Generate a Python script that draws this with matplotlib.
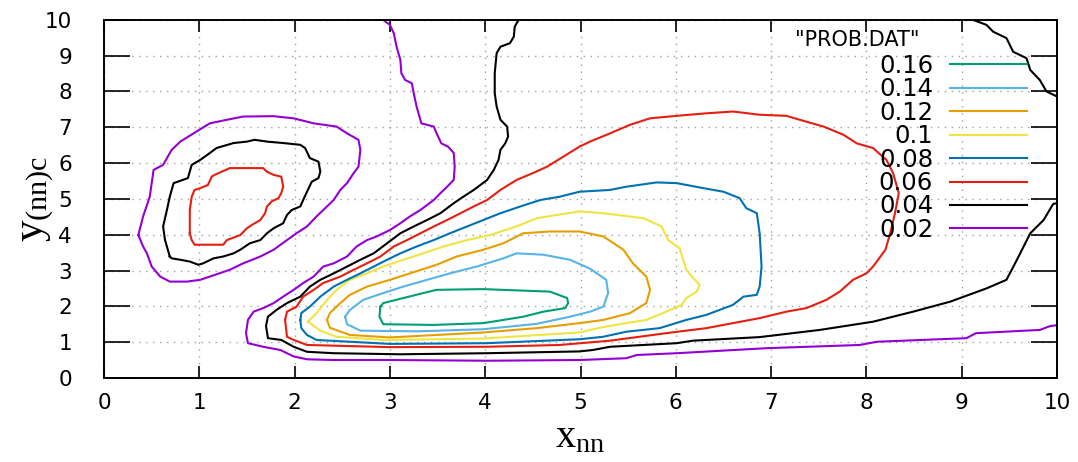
import matplotlib
matplotlib.use("Agg")
import matplotlib.pyplot as plt
import numpy as np

plt.rcParams['font.family'] = ['DejaVu Sans']
plt.rcParams['mathtext.fontset'] = 'custom'
plt.rcParams['mathtext.rm'] = 'Liberation Serif'
plt.rcParams['mathtext.it'] = 'Liberation Serif:italic'

# contour levels and gnuplot colours
levels = ["0.16", "0.14", "0.12", "0.1", "0.08", "0.06", "0.04", "0.02"]
colors = ["#009e73", "#56b4e9", "#e69f00", "#f0e442", "#0072b2", "#e51e10", "#000000", "#9400d3"]

# contour lines (x_nn, y_(nn)c)
g16_x = [2.90, 2.93, 3.14, 3.35, 3.49, 3.98, 4.68, 4.86, 4.87, 4.84, 4.61, 4.40, 3.98, 3.46, 2.93, 2.89]
g16_y = [1.99, 2.09, 2.23, 2.37, 2.46, 2.48, 2.41, 2.23, 2.09, 1.95, 1.85, 1.71, 1.53, 1.48, 1.50, 1.71]

lb14_x = [2.53, 2.58, 2.72, 2.93, 3.14, 3.39, 3.63, 3.91, 4.19, 4.33, 4.61, 4.89, 5.10, 5.27, 5.29, 5.24,
          5.10, 4.89, 4.54, 3.98, 3.28, 2.69, 2.55]
lb14_y = [1.71, 1.90, 2.18, 2.37, 2.55, 2.74, 2.92, 3.11, 3.34, 3.48, 3.44, 3.30, 3.05, 2.74, 2.37, 1.99,
          1.85, 1.71, 1.51, 1.36, 1.30, 1.32, 1.50]

o12_x = [2.34, 2.37, 2.48, 2.58, 2.76, 3.00, 3.21, 3.49, 3.70, 3.98, 4.19, 4.40, 4.68, 4.99, 5.24, 5.45,
         5.55, 5.69, 5.73, 5.69, 5.52, 5.24, 4.99, 4.54, 3.98, 3.00, 2.58, 2.37]
o12_y = [1.62, 1.81, 2.09, 2.32, 2.55, 2.74, 2.92, 3.16, 3.39, 3.58, 3.76, 4.04, 4.09, 4.09, 3.95, 3.58,
         3.20, 2.83, 2.46, 2.09, 1.81, 1.62, 1.53, 1.39, 1.27, 1.13, 1.20, 1.40]

y10_x = [2.14, 2.23, 2.34, 2.44, 2.58, 2.76, 2.93, 3.14, 3.35, 3.56, 3.81, 4.05, 4.33, 4.54, 4.75, 4.99,
         5.24, 5.66, 5.85, 5.92, 6.04, 6.11, 6.17, 6.25, 6.22, 6.11, 6.06, 5.90, 5.69, 5.41, 5.20, 4.99,
         3.98, 2.93, 2.44, 2.27]
y10_y = [1.57, 1.81, 2.18, 2.46, 2.74, 2.92, 3.11, 3.30, 3.48, 3.67, 3.85, 3.99, 4.23, 4.46, 4.55, 4.65,
         4.60, 4.46, 4.23, 3.85, 3.62, 3.02, 2.83, 2.60, 2.41, 2.23, 2.04, 1.85, 1.62, 1.50, 1.40, 1.27,
         1.10, 1.06, 1.15, 1.32]

b08_x = [2.06, 2.07, 2.16, 2.27, 2.41, 2.55, 2.69, 2.83, 2.97, 3.11, 3.28, 3.46, 3.63, 3.81, 3.98, 4.16,
         4.37, 4.58, 4.78, 4.99, 5.31, 5.48, 5.80, 6.01, 6.29, 6.50, 6.67, 6.74, 6.85, 6.88, 6.90, 6.88,
         6.85, 6.71, 6.60, 6.46, 6.32, 6.11, 5.83, 5.48, 5.24, 4.99, 4.02, 3.00, 2.23, 2.13, 2.07]
b08_y = [1.62, 1.81, 1.99, 2.27, 2.55, 2.74, 2.92, 3.11, 3.30, 3.48, 3.67, 3.85, 4.04, 4.23, 4.41, 4.60,
         4.79, 4.97, 5.06, 5.20, 5.25, 5.34, 5.46, 5.44, 5.30, 5.20, 5.02, 4.74, 4.60, 4.04, 3.11, 2.55,
         2.32, 2.27, 2.04, 1.90, 1.76, 1.62, 1.39, 1.29, 1.15, 1.08, 0.97, 0.95, 1.06, 1.20, 1.39]

r06_x = [1.90, 1.92, 2.02, 2.09, 2.20, 2.30, 2.48, 2.62, 2.76, 2.90, 3.04, 3.18, 3.32, 3.46, 3.60, 3.74,
         3.88, 4.02, 4.16, 4.33, 4.50, 4.65, 4.82, 4.99, 5.10, 5.31, 5.52, 5.73, 6.01, 6.32, 6.60, 6.88,
         7.16, 7.30, 7.55, 7.76, 7.90, 8.07, 8.21, 8.28, 8.34, 8.30, 8.25, 8.20, 8.07, 8.00, 7.86, 7.72,
         7.58, 7.37, 7.16, 6.88, 6.60, 6.32, 5.90, 5.31, 4.78, 4.02, 3.00, 2.13, 1.99, 1.92]
r06_y = [1.62, 1.85, 1.99, 2.27, 2.46, 2.65, 2.83, 3.02, 3.20, 3.39, 3.67, 3.85, 4.04, 4.23, 4.41, 4.60,
         4.79, 4.97, 5.25, 5.53, 5.72, 5.90, 6.18, 6.46, 6.60, 6.83, 7.07, 7.25, 7.32, 7.39, 7.44, 7.35,
         7.32, 7.21, 7.02, 6.79, 6.55, 6.42, 6.09, 5.72, 5.16, 4.60, 4.04, 3.58, 3.11, 2.92, 2.74, 2.41,
         2.18, 1.95, 1.85, 1.67, 1.53, 1.39, 1.25, 1.04, 0.92, 0.87, 0.86, 0.92, 1.06, 1.15]

r06i_x = [0.90, 0.90, 0.92, 0.95, 1.01, 1.09, 1.13, 1.16, 1.32, 1.67, 1.71, 1.78, 1.86, 1.88, 1.86, 1.83,
          1.76, 1.71, 1.69, 1.64, 1.55, 1.50, 1.43, 1.29, 1.25, 1.11, 0.95, 0.92]
r06i_y = [4.04, 4.69, 5.06, 5.25, 5.30, 5.39, 5.62, 5.67, 5.86, 5.86, 5.76, 5.67, 5.62, 5.34, 5.16, 5.02,
          4.93, 4.79, 4.60, 4.41, 4.27, 4.18, 3.99, 3.85, 3.72, 3.72, 3.72, 3.85]

k04_x = [4.35, 4.31, 4.30, 4.26, 4.16, 4.12, 4.10, 4.10, 4.12, 4.16, 4.23, 4.24, 4.21, 4.16, 4.14, 4.09,
         4.02, 3.88, 3.77, 3.67, 3.53, 3.39, 3.25, 3.11, 2.97, 2.83, 2.69, 2.55, 2.41, 2.27, 2.16, 2.06,
         1.92, 1.81, 1.72, 1.70, 1.72, 1.86, 1.99, 2.13, 2.41, 3.11, 4.02, 4.99, 5.13, 5.31, 6.01, 6.18,
         6.88, 7.51, 8.07, 8.49, 8.88, 9.26, 9.47, 9.58, 9.72, 9.86, 9.96, 10.0]
k04_y = [10.0, 9.81, 9.53, 9.35, 9.25, 9.07, 8.51, 7.95, 7.58, 7.21, 7.02, 6.74, 6.55, 6.37, 6.09, 5.81,
         5.53, 5.25, 5.06, 4.88, 4.60, 4.41, 4.23, 4.04, 3.76, 3.48, 3.30, 3.11, 2.92, 2.74, 2.55, 2.27,
         2.09, 1.90, 1.71, 1.45, 1.11, 1.06, 0.87, 0.73, 0.69, 0.66, 0.69, 0.74, 0.78, 0.87, 0.97, 1.04,
         1.14, 1.34, 1.57, 1.85, 2.13, 2.50, 2.74, 3.30, 4.04, 4.41, 4.86, 4.88]

k04c_x = [9.12, 9.26, 9.33, 9.47, 9.54, 9.68, 9.72, 9.82, 9.89, 10.0]
k04c_y = [10.0, 9.86, 9.67, 9.49, 9.11, 8.93, 8.60, 8.32, 8.00, 7.86]

k04i_x = [0.69, 0.64, 0.62, 0.66, 0.69, 0.73, 0.88, 0.92, 1.01, 1.11, 1.18, 1.36, 1.50, 1.58, 1.71, 1.88,
          2.06, 2.11, 2.16, 2.25, 2.27, 2.25, 2.18, 2.13, 2.09, 2.06, 1.97, 1.92, 1.88, 1.78, 1.71, 1.64,
          1.53, 1.43, 1.36, 1.25, 1.15, 1.04, 0.99, 0.90, 0.80, 0.71]
k04i_y = [3.39, 3.85, 4.23, 4.69, 5.06, 5.44, 5.58, 5.95, 6.09, 6.28, 6.42, 6.56, 6.60, 6.65, 6.60, 6.56,
          6.51, 6.42, 6.14, 6.04, 5.76, 5.58, 5.48, 5.20, 4.97, 4.79, 4.69, 4.55, 4.32, 4.18, 4.04, 3.85,
          3.76, 3.58, 3.48, 3.39, 3.34, 3.20, 3.16, 3.25, 3.30, 3.34]

p02_x = [2.93, 3.00, 3.04, 3.07, 3.11, 3.12, 3.16, 3.23, 3.25, 3.28, 3.33, 3.46, 3.49, 3.54, 3.61, 3.67,
         3.68, 3.67, 3.60, 3.53, 3.46, 3.32, 3.21, 3.11, 3.00, 2.86, 2.76, 2.65, 2.55, 2.41, 2.30, 2.20,
         2.09, 1.99, 1.88, 1.78, 1.67, 1.57, 1.51, 1.49, 1.51, 1.67, 1.85, 1.99, 2.13, 2.41, 3.00, 4.02,
         4.99, 5.48, 5.59, 6.01, 6.95, 7.93, 8.11, 9.05, 9.15, 9.82, 9.93, 10.0]
p02_y = [10.0, 9.86, 9.63, 9.25, 8.88, 8.51, 8.32, 8.23, 7.95, 7.58, 7.11, 7.02, 6.83, 6.55, 6.46, 6.28,
         5.90, 5.53, 5.34, 5.16, 4.97, 4.69, 4.51, 4.32, 4.13, 3.95, 3.85, 3.67, 3.39, 3.20, 3.11, 2.83,
         2.65, 2.46, 2.27, 2.09, 1.95, 1.85, 1.62, 1.25, 0.97, 0.87, 0.78, 0.60, 0.52, 0.50, 0.50, 0.48,
         0.50, 0.55, 0.64, 0.69, 0.83, 0.92, 1.01, 1.11, 1.25, 1.34, 1.45, 1.47]

p02i_x = [0.36, 0.41, 0.48, 0.52, 0.62, 0.71, 0.80, 0.97, 1.11, 1.29, 1.46, 1.78, 1.99, 2.20, 2.44, 2.55,
          2.67, 2.69, 2.67, 2.62, 2.55, 2.48, 2.41, 2.34, 2.23, 2.13, 2.02, 1.92, 1.78, 1.64, 1.46, 1.32,
          1.11, 1.01, 0.87, 0.69, 0.59, 0.50, 0.45, 0.41]
p02i_y = [3.99, 4.51, 5.06, 5.81, 5.95, 6.37, 6.60, 6.88, 7.11, 7.21, 7.30, 7.31, 7.25, 7.11, 7.02, 6.83,
          6.65, 6.37, 5.90, 5.72, 5.44, 5.25, 4.97, 4.79, 4.51, 4.23, 4.04, 3.85, 3.58, 3.39, 3.20, 3.02,
          2.83, 2.74, 2.69, 2.69, 2.83, 3.11, 3.48, 3.67]

# (level index, x, y, closed)
curves = [
    (0, g16_x, g16_y, True),
    (1, lb14_x, lb14_y, True),
    (2, o12_x, o12_y, True),
    (3, y10_x, y10_y, True),
    (4, b08_x, b08_y, True),
    (5, r06_x, r06_y, True),
    (5, r06i_x, r06i_y, True),
    (6, k04_x, k04_y, False),
    (6, k04c_x, k04c_y, False),
    (6, k04i_x, k04i_y, True),
    (7, p02_x, p02_y, False),
    (7, p02i_x, p02i_y, True),
]

fig = plt.figure(figsize=(10.78, 4.62), dpi=100)
ax = fig.add_axes([0.0965, 0.182, 0.884, 0.775])

for i, cx, cy, closed in curves:
    cx = np.array(cx)
    cy = np.array(cy)
    if closed:
        cx = np.append(cx, cx[0])
        cy = np.append(cy, cy[0])
    ax.plot(cx, cy, color=colors[i], lw=1.5)

ax.set_xlim(0, 10)
ax.set_ylim(0, 10)
ax.set_xticks(range(0, 11))
ax.set_yticks(range(0, 11))
ax.grid(True, color='#a0a0a0', linestyle=(0, (1, 4)), lw=1.0)
ax.set_axisbelow(True)
ax.tick_params(axis='both', direction='in', top=True, right=True, width=1.2, labelsize=15.5)
ax.tick_params(axis='y', length=18.5, pad=23)
ax.tick_params(axis='x', length=8.5, pad=11)
for s in ax.spines.values():
    s.set_linewidth(1.4)

ax.set_xlabel(r'$\mathrm{x}_{\mathrm{nn}}$', fontsize=29, labelpad=2)
ax.set_ylabel(r'$\mathrm{y}_{\mathrm{(nn)c}}$', fontsize=31)
ax.yaxis.set_label_coords(-0.05, 0.5)

# key in the top right corner, gnuplot style
ax.text(0.79, 0.944, '"PROB.DAT"', transform=ax.transAxes, ha='center', va='center', fontsize=15)
for k, lab in enumerate(levels):
    yk = 0.8715 - k * 0.0654
    ax.text(0.870, yk, lab, transform=ax.transAxes, ha='right', va='center', fontsize=17.5)
    ax.plot([0.888, 0.969], [yk + 0.004, yk + 0.004], transform=ax.transAxes, color=colors[k], lw=1.5)

fig.savefig('out.png', dpi=100)
